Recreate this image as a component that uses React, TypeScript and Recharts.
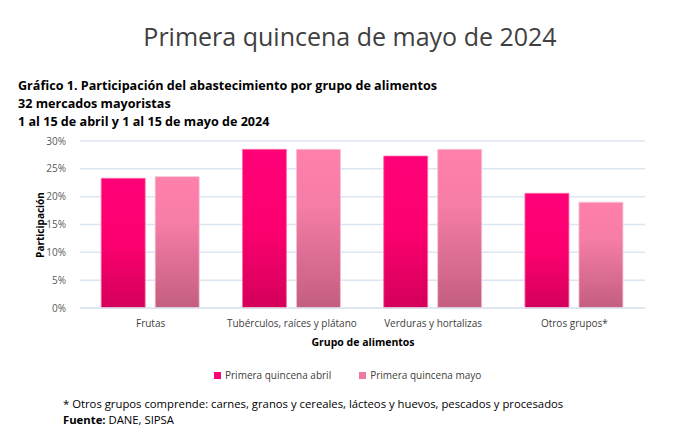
import React from "react";
import { BarChart, Bar, XAxis, YAxis, CartesianGrid } from "recharts";

const categories = [
  "Frutas",
  "Tubérculos, raíces y plátano",
  "Verduras y hortalizas",
  "Otros grupos*",
];
const abril = [23.3, 28.5, 27.3, 20.6];
const mayo = [23.6, 28.5, 28.5, 19.0];
const yTicks = [0, 5, 10, 15, 20, 25, 30];
const seriesNames = ["Primera quincena abril", "Primera quincena mayo"];
const seriesSwatch = ["#FF0077", "#EE7AA2"];

const data = categories.map((name, i) => ({ name, abril: abril[i], mayo: mayo[i] }));

const FONT = "'Open Sans', 'Noto Sans', sans-serif";

export default function App() {
  return (
    <div
      style={{
        position: "absolute",
        left: 0,
        top: 0,
        width: 692,
        height: 435,
        background: "#fff",
        fontFamily: FONT,
        overflow: "hidden",
      }}
    >
      <div
        style={{
          position: "absolute",
          left: 0,
          top: 18,
          width: 700,
          textAlign: "center",
          fontSize: 25,
          color: "#404040",
          lineHeight: "36px",
        }}
      >
        Primera quincena de mayo de 2024
      </div>
      <div
        style={{
          position: "absolute",
          left: 18,
          top: 77,
          fontSize: 12.6,
          fontWeight: 700,
          color: "#000",
          lineHeight: "18px",
        }}
      >
        <div>Gráfico 1. Participación del abastecimiento por grupo de alimentos</div>
        <div>32 mercados mayoristas</div>
        <div>1 al 15 de abril y 1 al 15 de mayo de 2024</div>
      </div>

      <div style={{ position: "absolute", left: 0, top: 0 }}>
        <BarChart
          width={692}
          height={435}
          data={data}
          margin={{ top: 141, right: 47, bottom: 97, left: 0 }}
          barGap={10}
          barCategoryGap="15%"
        >
          <defs>
            <linearGradient id="gAbril" x1="0" y1="0" x2="0" y2="1">
              <stop offset="0%" stopColor="#FF0077" />
              <stop offset="50%" stopColor="#FC006F" />
              <stop offset="100%" stopColor="#D3005A" />
            </linearGradient>
            <linearGradient id="gMayo" x1="0" y1="0" x2="0" y2="1">
              <stop offset="0%" stopColor="#FF80AB" />
              <stop offset="35%" stopColor="#F57DA6" />
              <stop offset="100%" stopColor="#C35E80" />
            </linearGradient>
          </defs>
          <CartesianGrid vertical={false} stroke="#DCE6F2" strokeWidth={1.5} />
          <XAxis
            dataKey="name"
            height={30}
            axisLine={{ stroke: "#DCE6F2", strokeWidth: 1.5 }}
            tickLine={false}
            tick={{ fill: "#404040", fontSize: 10, fontFamily: FONT }}
            tickMargin={6}
            interval={0}
          />
          <YAxis
            width={80}
            domain={[0, 30]}
            ticks={yTicks}
            tickFormatter={(v: number) => `${v}%`}
            axisLine={false}
            tickLine={false}
            tick={{ fill: "#595959", fontSize: 10, fontFamily: FONT }}
            tickMargin={8}
          />
          <Bar
            dataKey="abril"
            name={seriesNames[0]}
            fill="url(#gAbril)"
            stroke="#FF70A8"
            strokeWidth={0.8}
            isAnimationActive={false}
          />
          <Bar
            dataKey="mayo"
            name={seriesNames[1]}
            fill="url(#gMayo)"
            stroke="#F2C4D4"
            strokeWidth={0.8}
            isAnimationActive={false}
          />
        </BarChart>
      </div>

      <div
        style={{
          position: "absolute",
          left: 40,
          top: 225,
          transform: "translate(-50%, -50%) rotate(-90deg)",
          fontSize: 10,
          fontWeight: 700,
          color: "#000",
          whiteSpace: "nowrap",
        }}
      >
        Participación
      </div>
      <div
        style={{
          position: "absolute",
          left: 0,
          top: 335,
          width: 726,
          textAlign: "center",
          fontSize: 10.5,
          fontWeight: 700,
          color: "#000",
        }}
      >
        Grupo de alimentos
      </div>

      <div
        style={{
          position: "absolute",
          left: 214,
          top: 368,
          display: "flex",
          alignItems: "center",
          fontSize: 10,
          color: "#404040",
        }}
      >
        {seriesNames.map((n, i) => (
          <div key={n} style={{ display: "flex", alignItems: "center", marginRight: 28 }}>
            <span
              style={{
                display: "inline-block",
                width: 7,
                height: 7,
                background: seriesSwatch[i],
                marginRight: 4,
              }}
            />
            <span>{n}</span>
          </div>
        ))}
      </div>

      <div
        style={{
          position: "absolute",
          left: 63,
          top: 396,
          fontSize: 11.3,
          color: "#000",
          lineHeight: "16px",
        }}
      >
        <div>* Otros grupos comprende: carnes, granos y cereales, lácteos y huevos, pescados y procesados</div>
        <div>
          <b>Fuente:</b> DANE, SIPSA
        </div>
      </div>
    </div>
  );
}
